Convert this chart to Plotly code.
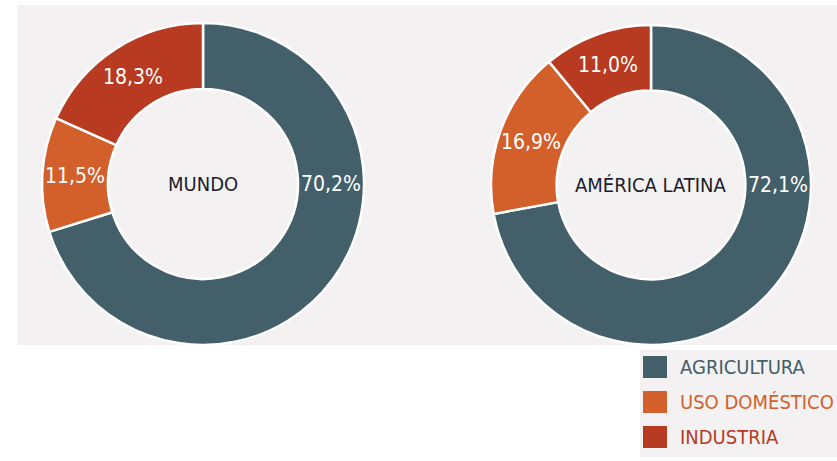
import math
import plotly.graph_objects as go

# ---- data ----
categories = ["AGRICULTURA", "USO DOMÉSTICO", "INDUSTRIA"]
mundo = [70.2, 11.5, 18.3]
america_latina = [72.1, 16.9, 11.0]
regions = ["MUNDO", "AMÉRICA LATINA"]
series = [mundo, america_latina]
colors = ["#435f69", "#d3602a", "#b73a21"]

W, H = 837, 461
FONT = "'DejaVu Sans Condensed', 'Liberation Sans Narrow', 'Arial Narrow', sans-serif"

# pie geometry (pixel centres / radii)
centers = [(203, 184), (651, 185)]
radii = [161, 160]
HOLE = 0.59


def px(x):
    return x / W


def py(y):
    return 1 - y / H


def fmt(v):
    return f"{v:.1f}%".replace(".", ",")


fig = go.Figure()

for vals, (cx, cy), r in zip(series, centers, radii):
    fig.add_trace(go.Pie(
        labels=categories,
        values=vals,
        sort=False,
        direction="clockwise",
        rotation=0,
        hole=HOLE,
        marker=dict(colors=colors, line=dict(color="white", width=2.5)),
        textinfo="none",
        hoverinfo="skip",
        showlegend=False,
        domain=dict(x=[px(cx - r), px(cx + r)], y=[py(cy + r), py(cy - r)]),
    ))

annotations = []
for name, vals, (cx, cy), r in zip(regions, series, centers, radii):
    annotations.append(dict(
        x=px(cx), y=py(cy), xref="paper", yref="paper", text=name,
        showarrow=False, font=dict(family=FONT, size=20, color="#1b1b2b"),
        xanchor="center", yanchor="middle",
    ))
    total = sum(vals)
    mid_r = r * (1 + HOLE) / 2
    cum = 0
    for i, v in enumerate(vals):
        start = cum / total * 360
        cum += v
        end = cum / total * 360
        ang = 90 if i == 0 else (start + end) / 2
        a = math.radians(ang)
        lx = cx + mid_r * math.sin(a)
        ly = cy - mid_r * math.cos(a)
        annotations.append(dict(
            x=px(lx), y=py(ly), xref="paper", yref="paper", text=fmt(v),
            showarrow=False, font=dict(family=FONT, size=21, color="white"),
            xanchor="center", yanchor="middle",
        ))

shapes = [
    # grey panel
    dict(type="rect", xref="paper", yref="paper", x0=px(17), x1=px(837),
         y0=py(345), y1=py(5), fillcolor="#f3f1f2", line=dict(width=0), layer="below"),
    # legend background
    dict(type="rect", xref="paper", yref="paper", x0=px(640), x1=px(837),
         y0=py(457), y1=py(350), fillcolor="#f3f1f2", line=dict(width=0), layer="below"),
]

row_y = [367, 402, 437]
for cat, col, ry in zip(categories, colors, row_y):
    shapes.append(dict(type="rect", xref="paper", yref="paper",
                       x0=px(643), x1=px(667), y0=py(ry + 11), y1=py(ry - 11),
                       fillcolor=col, line=dict(width=0)))
    annotations.append(dict(
        x=px(678), y=py(ry), xref="paper", yref="paper", text=cat,
        showarrow=False, font=dict(family=FONT, size=20, color=col),
        xanchor="left", yanchor="middle",
    ))

fig.update_layout(
    width=W, height=H,
    margin=dict(l=0, r=0, t=0, b=0),
    paper_bgcolor="white",
    plot_bgcolor="white",
    shapes=shapes,
    annotations=annotations,
    showlegend=False,
)

fig.write_html(
    "out.html",
    config={"displayModeBar": False},
    post_script="document.body.style.margin='0';document.body.style.overflow='hidden';",
)
